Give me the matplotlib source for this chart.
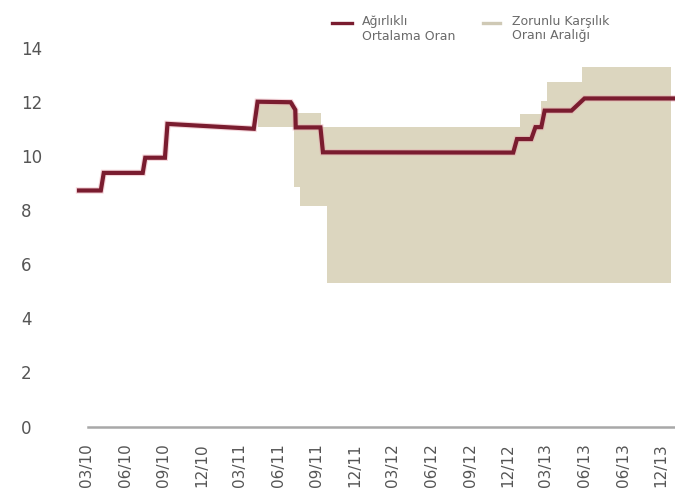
import datetime as dt
import matplotlib
matplotlib.use("Agg")
import matplotlib.pyplot as plt
import matplotlib.dates as mdates
from matplotlib.lines import Line2D

plt.rcParams["font.family"] = ["DejaVu Sans"]

# Weighted average rate (breakpoints of the series)
avg_dates = ["2010-02-11", "2010-04-04", "2010-04-11", "2010-07-13", "2010-07-19",
             "2010-09-04", "2010-09-10", "2011-04-04", "2011-04-13", "2011-07-01",
             "2011-07-12", "2011-07-13", "2011-09-10", "2011-09-16", "2012-12-13",
             "2012-12-22", "2013-01-25", "2013-02-04", "2013-02-18", "2013-02-26",
             "2013-05-01", "2013-06-01", "2014-01-01"]
avg_rate = [8.72, 8.72, 9.37, 9.37, 9.93,
            9.93, 11.18, 11.0, 12.0, 11.98,
            11.7, 11.05, 11.05, 10.13, 10.12,
            10.62, 10.62, 11.06, 11.06, 11.67,
            11.67, 12.12, 12.12]

# Reserve requirement range (lower / upper bound, step changes)
band_dates = ["2011-04-13", "2011-07-10", "2011-07-24", "2011-09-11", "2011-09-25",
              "2012-12-28", "2013-02-18", "2013-03-04", "2013-05-25", "2013-12-25"]
band_low = [11.05, 8.85, 8.15, 8.15, 5.3, 5.3, 5.3, 5.3, 5.3, 5.3]
band_high = [12.0, 11.6, 11.6, 11.05, 11.05, 11.56, 12.04, 12.72, 13.27, 13.2]

tick_dates = ["2010-03-01", "2010-06-01", "2010-09-01", "2010-12-01",
              "2011-03-01", "2011-06-01", "2011-09-01", "2011-12-01",
              "2012-03-01", "2012-06-01", "2012-09-01", "2012-12-01",
              "2013-03-01", "2013-06-01", "2013-09-01", "2013-12-01"]
tick_labels = ["03/10", "06/10", "09/10", "12/10", "03/11", "06/11", "09/11", "12/11",
               "03/12", "06/12", "09/12", "12/12", "03/13", "06/13", "06/13", "12/13"]
y_ticks = [0, 2, 4, 6, 8, 10, 12, 14]

legend_labels = ["Ağırlıklı\nOrtalama Oran", "Zorunlu Karşılık\nOranı Aralığı"]


def to_num(seq):
    return mdates.date2num([dt.datetime.strptime(s, "%Y-%m-%d") for s in seq])


LINE_COLOR = "#7a1c2f"
BAND_COLOR = "#dcd6bf"
TEXT_COLOR = "#555555"

fig = plt.figure(figsize=(6.75, 4.99), dpi=100)
W, H = 675, 499
ax = fig.add_axes([74 / W, (H - 426.5) / H, (675 - 74) / W, 406 / H])

bx = to_num(band_dates)
ax.fill_between(bx, band_low, band_high, step="post", color=BAND_COLOR, lw=0, zorder=1)

ax_x = to_num(avg_dates)
ax.plot(ax_x, avg_rate, color="#e8a3ad", lw=4.6, alpha=0.45, zorder=2,
        solid_joinstyle="miter")
ax.plot(ax_x, avg_rate, color=LINE_COLOR, lw=3.0, zorder=3, solid_joinstyle="miter")

x_left = mdates.date2num(dt.datetime(2010, 1, 30))
x_right = mdates.date2num(dt.datetime(2014, 1, 3))
ax.set_xlim(x_left, x_right)
ax.set_ylim(0, 15)

tx = to_num(tick_dates)
ax.set_xticks(tx)
ax.set_xticklabels(tick_labels, rotation=90, fontsize=11, color=TEXT_COLOR)
ax.tick_params(axis="x", length=0, pad=12)

ax.set_yticks(y_ticks)
ax.set_yticklabels([str(v) for v in y_ticks], fontsize=12, color=TEXT_COLOR)
ax.tick_params(axis="y", length=0, pad=38)
for lab in ax.get_yticklabels():
    lab.set_horizontalalignment("left")

for side in ("left", "right", "top"):
    ax.spines[side].set_visible(False)
ax.spines["bottom"].set_color("#a8a8a8")
ax.spines["bottom"].set_linewidth(1.8)
ax.spines["bottom"].set_bounds(tx[0] + 3, x_right)

# Legend drawn in figure pixel positions
def fx(px):
    return px / W


def fy(py):
    return 1 - py / H


fig.add_artist(Line2D([fx(332), fx(352)], [fy(22.5), fy(22.5)],
                      color=LINE_COLOR, lw=2.4, transform=fig.transFigure))
fig.text(fx(362), fy(15), legend_labels[0], fontsize=9, color="#6a6a6a",
         va="top", ha="left", linespacing=1.15)
fig.add_artist(Line2D([fx(483), fx(500)], [fy(22.5), fy(22.5)],
                      color="#cfc9b5", lw=2.4, transform=fig.transFigure))
fig.text(fx(512), fy(15), legend_labels[1], fontsize=9, color="#6a6a6a",
         va="top", ha="left", linespacing=1.15)

fig.savefig("out.png", dpi=100)
